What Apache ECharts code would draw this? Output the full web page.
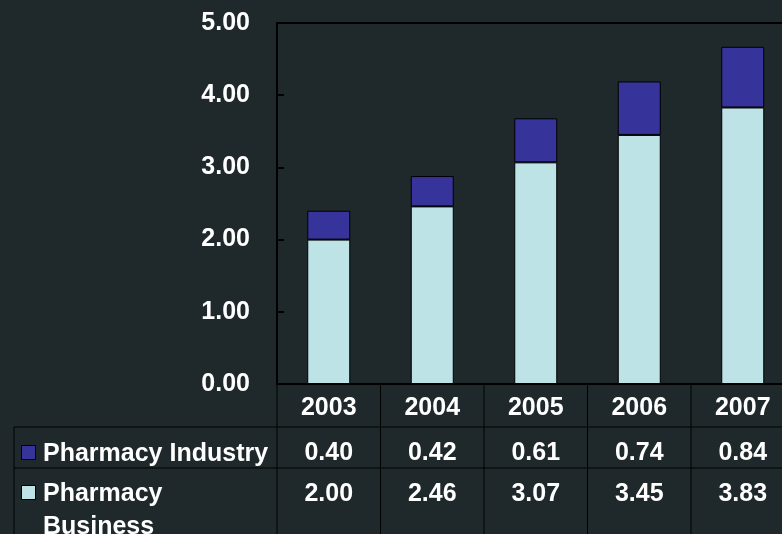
<!DOCTYPE html>
<html><head><meta charset="utf-8">
<script src="https://cdn.jsdelivr.net/npm/echarts@6/dist/echarts.min.js"></script>
<style>html,body{margin:0;padding:0;background:#1f282b;overflow:hidden}#c{width:782px;height:534px;}</style>
</head><body><div id="c"></div>
<script>
const categories = ['2003', '2004', '2005', '2006', '2007'];
const seriesNames = ['Pharmacy Industry', 'Pharmacy Business'];
const industry = [0.40, 0.42, 0.61, 0.74, 0.84];
const business = [2.00, 2.46, 3.07, 3.45, 3.83];
const yMin = 0, yMax = 5, yStep = 1;

const FONT = 'bold 25px "Liberation Sans", Arial, sans-serif';
const colors = { industry: '#36339a', business: '#bde3e6' };

const chart = echarts.init(document.getElementById('c'), null, { renderer: 'canvas' });

function line(x1, y1, x2, y2, w) {
  return { type: 'line', shape: { x1, y1, x2, y2 }, style: { stroke: '#000', lineWidth: w || 1 } };
}
function txt(text, x, y, align) {
  return { type: 'text', style: { text, x, y, align: align || 'center', verticalAlign: 'middle', fill: '#fff', font: FONT } };
}

const tableData = categories.map((c, i) => [i, industry[i], business[i]]);

chart.setOption({
  backgroundColor: '#1f282b',
  animation: false,
  grid: { left: 277, top: 23, right: -12.5, bottom: 150, outerBoundsMode: 'none', show: true, borderColor: '#000', borderWidth: 2, backgroundColor: 'transparent', containLabel: false },
  xAxis: {
    type: 'category', data: categories,
    axisLine: { lineStyle: { color: '#000', width: 2 } },
    axisTick: { show: false },
    axisLabel: { color: '#fff', fontSize: 25, fontWeight: 'bold', fontFamily: 'Liberation Sans', margin: 24, verticalAlign: 'middle' },
    splitLine: { show: false }
  },
  yAxis: {
    type: 'value', min: yMin, max: yMax, interval: yStep,
    axisLine: { show: true, lineStyle: { color: '#000', width: 2 } },
    axisTick: { show: true, inside: true, length: 7, lineStyle: { color: '#000', width: 2 } },
    axisLabel: { color: '#fff', fontSize: 25, fontWeight: 'bold', fontFamily: 'Liberation Sans', margin: 27, padding: [4, 0, 0, 0], formatter: v => v.toFixed(2) },
    splitLine: { show: false }
  },
  series: [
    {
      name: seriesNames[1], type: 'bar', stack: 'total', data: business, barWidth: 43,
      itemStyle: { color: colors.business, borderColor: '#000', borderWidth: 1 }
    },
    {
      name: seriesNames[0], type: 'bar', stack: 'total', data: industry, barWidth: 43,
      itemStyle: { color: colors.industry, borderColor: '#000', borderWidth: 1 }
    },
    {
      type: 'custom', clip: false, silent: true, data: tableData,
      encode: { x: 0, y: 1 },
      renderItem: function (params, api) {
        const i = api.value(0);
        const p = api.coord([i, 0]);
        const w = api.size([1, 0])[0];
        const left = p[0] - w / 2, right = p[0] + w / 2, y0 = p[1];
        const r1 = y0 + 43, r2 = y0 + 84, bottom = y0 + 170;
        const children = [
          line(left, y0, left, bottom),
          line(left, r1, right, r1),
          line(left, r2, right, r2),
          txt(api.value(1).toFixed(2), p[0], y0 + 69.5),
          txt(api.value(2).toFixed(2), p[0], y0 + 110)
        ];
        if (i === 0) {
          const lx = 14;
          children.push(line(lx, r1, left, r1), line(lx, r2, left, r2), line(lx, r1, lx, bottom));
          children.push({ type: 'rect', shape: { x: 21.5, y: y0 + 61.5, width: 14, height: 14 }, style: { fill: colors.industry, stroke: '#000', lineWidth: 1 } });
          children.push({ type: 'rect', shape: { x: 21.5, y: y0 + 101.5, width: 14, height: 14 }, style: { fill: colors.business, stroke: '#000', lineWidth: 1 } });
          children.push(txt(seriesNames[0], 43, y0 + 70, 'left'));
          const parts = seriesNames[1].split(' ');
          children.push(txt(parts[0], 43, y0 + 110.5, 'left'));
          children.push(txt(parts[1], 43, y0 + 143.5, 'left'));
        }
        return { type: 'group', children };
      }
    }
  ]
});
</script></body></html>
